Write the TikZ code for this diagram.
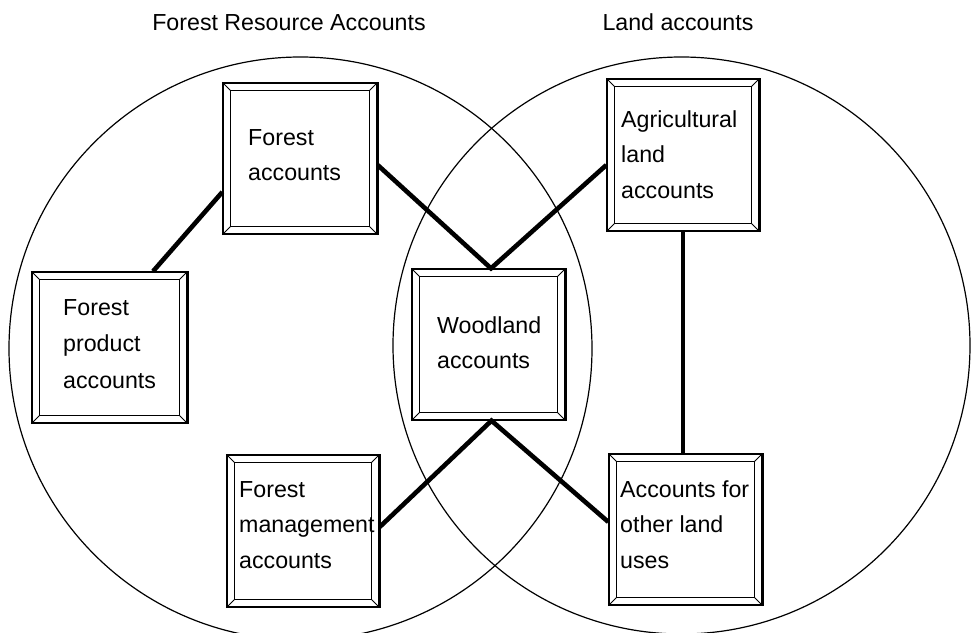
\documentclass[tikz,border=0pt]{standalone}
\usepackage{fontspec}
\setmainfont{Liberation Sans}
\usetikzlibrary{calc}
\tikzset{
  bevbox/.style={draw, fill=white, line width=1.3pt, inner sep=0pt, minimum width=153pt, minimum height=151pt},
  txt/.style={inner sep=0pt, font=\fontsize{23.2}{35.5}\selectfont},
  conn/.style={line width=4.6pt},
  venn/.style={draw, circle, line width=1.2pt, inner sep=0pt}
}
\newcommand\bevelbox[1]{%
  \draw[line width=1.3pt] ([shift={(8pt,8pt)}]#1.south west) rectangle ([shift={(-8pt,-8pt)}]#1.north east);
  \draw[line width=1pt] (#1.south west) -- ++(8pt,8pt) (#1.north west) -- ++(8pt,-8pt)
    (#1.north east) -- ++(-8pt,-8pt) (#1.south east) -- ++(-8pt,8pt);
  \draw[line width=2.4pt] (#1.north east) -- (#1.south east);
}
\begin{document}
\begin{tikzpicture}[x=1pt,y=-1pt]
\useasboundingbox (0,0) rectangle (972,632);
% circles
\node[venn, minimum size=583pt] (lc) at (300.5,348.5) {};
\node[venn, minimum size=577pt] (rc) at (681.5,345.5) {};
% titles
\node[txt, anchor=base] (t1) at (289,30) {Forest Resource Accounts};
\node[txt, anchor=base] (t2) at (678,30) {Land accounts};
% boxes
\node[bevbox, minimum width=154pt] (fa) at (300,158.5) {};
\node[bevbox, minimum width=155pt] (fp) at (109.5,347.5) {};
\node[bevbox] (wd) at (488.5,344.5) {};
\node[bevbox, minimum width=152pt, minimum height=152pt] (ag) at (683,155) {};
\node[bevbox] (ol) at (685.5,529.5) {};
\node[bevbox, minimum width=152pt, minimum height=152pt] (fm) at (303,531) {};
\bevelbox{fa}\bevelbox{fp}\bevelbox{wd}\bevelbox{ag}\bevelbox{ol}\bevelbox{fm}
% texts
\node[txt, anchor=base west] (fatx) at (248,145) {\vtop{\hbox{Forest}\hbox{accounts}}};
\node[txt, anchor=base west] (fptx) at (63,315) {\vtop{\baselineskip=36.5pt\hbox{Forest}\hbox{product}\hbox{accounts}}};
\node[txt, anchor=base west] (wdtx) at (437,333) {\vtop{\hbox{Woodland}\hbox{accounts}}};
\node[txt, anchor=base west] (agtx) at (621,127) {\vtop{\hbox{Agricultural}\hbox{land}\hbox{accounts}}};
\node[txt, anchor=base west] (oltx) at (620,497) {\vtop{\hbox{Accounts for}\hbox{other land}\hbox{uses}}};
\node[txt, anchor=base west] (fmtx) at (239,497) {\vtop{\hbox{Forest}\hbox{management}\hbox{accounts}}};
% connectors
\draw[conn] ([xshift=43.5pt]fp.north) -- ([yshift=-33.5pt]fa.west);
\draw[conn] ([yshift=-6.5pt]fa.east) -- ([xshift=2.5pt]wd.north) -- ([yshift=-10pt]ag.west);
\draw[conn] ([yshift=4pt]fm.east) -- ([xshift=3pt]wd.south) -- ([yshift=7.5pt]ol.west);
\draw[conn] (ag.south) -- (ag.south |- ol.north);
\end{tikzpicture}
\end{document}
